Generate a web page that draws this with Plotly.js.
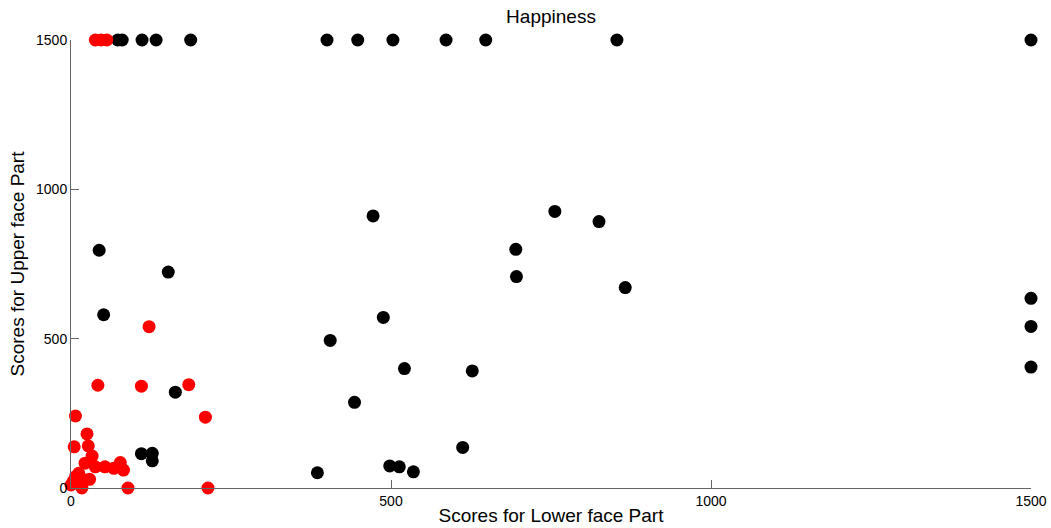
<!DOCTYPE html>
<html><head><meta charset="utf-8">
<script src="https://cdn.plot.ly/plotly-3.0.1.min.js"></script>
<style>html,body{margin:0;padding:0;background:#fff}#c{width:1051px;height:528px}</style>
</head><body><div id="c"></div>
<script>
// Black series (x = lower face score, y = upper face score)
const blackX = [73, 80, 111, 133, 187, 400, 448, 503, 586, 648, 853, 1500,
  472, 756, 825, 695, 696, 866, 488, 405, 521, 627, 443, 612, 385, 498, 513, 535,
  1500, 1500, 1500, 44, 152, 51, 163, 110, 127, 127];
const blackY = [1500, 1500, 1500, 1500, 1500, 1500, 1500, 1500, 1500, 1500, 1500, 1500,
  911, 926, 892, 799, 708, 671, 571, 494, 400, 392, 287, 136, 51, 74, 71, 54,
  635, 541, 405, 796, 723, 580, 321, 115, 116, 91];
// Red series
const redX = [38, 47, 56, 122, 42, 110, 184, 7, 210, 25, 5, 27, 33, 22, 38, 53, 67, 77, 82, 89, 214, 7, 22, 0, 17, 12, 29, 3];
const redY = [1500, 1500, 1500, 540, 344, 341, 346, 241, 237, 181, 138, 141, 107, 83, 71, 71, 66, 85, 60, 0, 0, 38, 27, 10, 0, 49, 29, 21];
const xTicks = [0, 500, 1000, 1500];
const yTicks = [0, 500, 1000, 1500];

const font = 'Liberation Sans, Arial, sans-serif';
const traces = [
  {x: blackX, y: blackY, type: 'scatter', mode: 'markers', cliponaxis: false,
   marker: {color: '#000000', size: 13}},
  {x: redX, y: redY, type: 'scatter', mode: 'markers', cliponaxis: false,
   marker: {color: '#ff0000', size: 13}}
];
const axisCommon = {showgrid: false, zeroline: false, showline: true, linecolor: '#666666', linewidth: 1,
  ticks: 'inside', ticklen: 8, tickcolor: '#666666', tickfont: {family: font, size: 14, color: '#000'},
  mirror: false, fixedrange: true};
const layout = {
  width: 1051, height: 528,
  margin: {l: 71, r: 20, t: 40, b: 40},
  paper_bgcolor: '#fff', plot_bgcolor: '#fff',
  showlegend: false,
  title: {text: 'Happiness', x: 0.5, xref: 'paper', y: 0.982, yref: 'container', yanchor: 'top',
    font: {family: font, size: 19, color: '#000'}},
  xaxis: Object.assign({}, axisCommon, {range: [0, 1500], tickvals: xTicks, ticktext: xTicks.map(String),
    title: {text: 'Scores for Lower face Part', standoff: 0, font: {family: font, size: 19, color: '#000'}}}),
  yaxis: Object.assign({}, axisCommon, {range: [0, 1500], tickvals: yTicks, ticktext: yTicks.map(String),
    title: {text: 'Scores for Upper face Part', standoff: 6, font: {family: font, size: 19, color: '#000'}}})
};
Plotly.newPlot('c', traces, layout, {displayModeBar: false, staticPlot: true});
</script></body></html>
